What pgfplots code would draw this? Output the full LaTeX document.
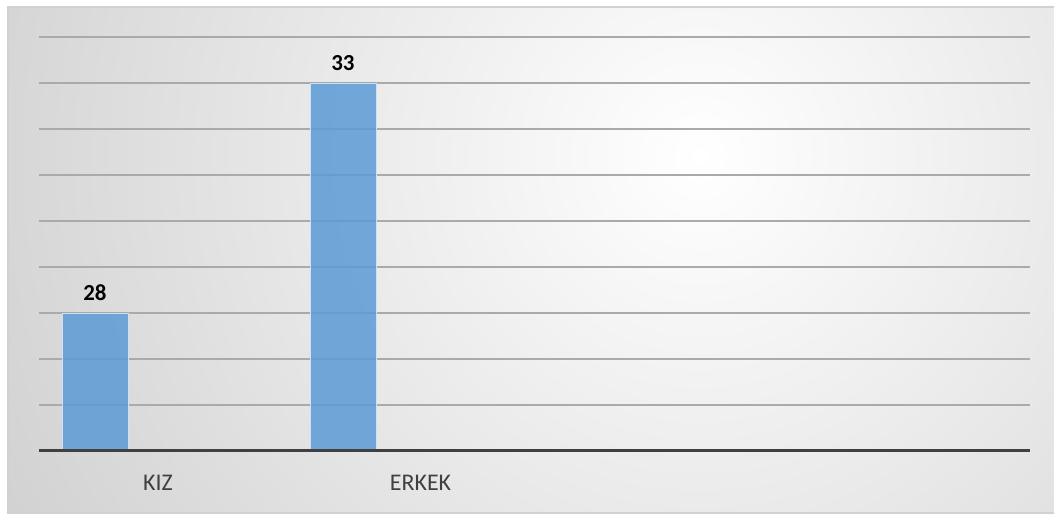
\documentclass[border=0pt]{standalone}
\usepackage{pgfplots}
\pgfplotsset{compat=1.18}
\usepackage{fontspec}
\setmainfont{Carlito}
\definecolor{barblue}{RGB}{91,155,213}
\definecolor{gridc}{RGB}{170,170,170}
\definecolor{basec}{RGB}{64,64,64}
\definecolor{labc}{RGB}{64,64,64}
\begin{document}
\begin{tikzpicture}[x=1bp,y=1bp]
\fill[white] (0,0) rectangle (1054,516);
\begin{scope}
\clip (8,3) rectangle (1054,509);
\shade[inner color=white, outer color=black!32] (700,360) circle (1400);
\end{scope}
\draw[black!18, line width=1.2bp] (8,3) rectangle (1062,509);
\begin{axis}[
  at={(39bp,65bp)}, anchor=south west,
  scale only axis, width=991bp, height=414bp,
  xmin=0, xmax=4, ymin=25, ymax=34,
  ybar, bar width=0.266,
  ytick={25,26,...,34}, yticklabels={},
  ymajorgrids, grid style={gridc, line width=1.3bp},
  axis line style={draw=none},
  major tick length=0pt,
  xtick={0.48,1.54}, xticklabels={KIZ,ERKEK},
  xticklabel style={font=\fontsize{24}{28}\selectfont, text=labc, yshift=-21bp},
  /pgf/number format/assume math mode=true,
]
\addplot[fill=barblue, fill opacity=0.85, draw=white!70!barblue, line width=0.8bp,
  nodes near coords,
  every node near coord/.append style={font=\fontsize{23}{27}\selectfont\bfseries, text=black, text opacity=1, yshift=9bp}]
  coordinates {(0.226,28) (1.227,33)};
\end{axis}
\draw[basec, line width=3bp] (39,65) -- (1030,65);
\pgfresetboundingbox
\path (0,0) rectangle (1054,516);
\end{tikzpicture}
\end{document}
